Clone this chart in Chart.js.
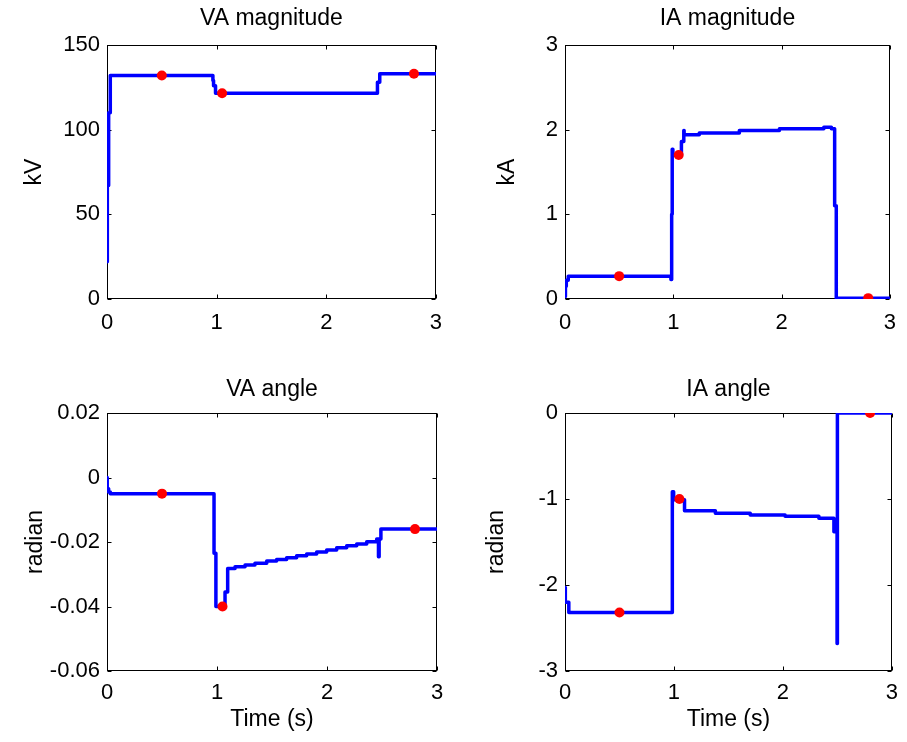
<!DOCTYPE html>
<html>
<head>
<meta charset="utf-8">
<title>Phase A quantities</title>
<script src="https://cdn.jsdelivr.net/npm/chart.js@4.4.0/dist/chart.umd.min.js"></script>
<style>
  html, body { margin: 0; padding: 0; background: #fff; }
  #fig { position: relative; width: 907px; height: 742px; }
  #fig canvas { position: absolute; }
</style>
</head>
<body>
<div id="fig">
  <canvas id="vaMag" width="453" height="371" style="left:0;top:0"></canvas>
  <canvas id="iaMag" width="454" height="371" style="left:453px;top:0"></canvas>
  <canvas id="vaAng" width="453" height="371" style="left:0;top:371px"></canvas>
  <canvas id="iaAng" width="454" height="371" style="left:453px;top:371px"></canvas>
</div>
<script>
(function(){
    "use strict";

    // sample instants of the red markers (s)
    var markerTime = [0.5, 1.05, 2.8];

    // VA magnitude (kV), each value held until the next instant
    var vaMagTime  = [0, 0.003, 0.015, 0.03, 0.966, 0.972, 0.99, 2.467, 2.488, 3];
    var vaMagValue = [22, 67, 110, 132, 129, 126, 121.5, 128, 133, 133];
    var vaMagMarkers = [132, 121.5, 133];

    // IA magnitude (kA)
    var iaMagTime  = [0, 0.004, 0.012, 0.03, 0.978, 0.985, 0.99, 0.996, 1.075, 1.097, 1.1,
                      1.24, 1.61, 1.98, 2.39, 2.46, 2.49, 2.505, 3];
    var iaMagValue = [0.03, 0.15, 0.22, 0.27, 0.23, 1.0, 1.77, 1.70, 1.86, 1.99, 1.94,
                      1.96, 1.99, 2.01, 2.03, 2.01, 1.1, 0.01, 0.01];
    var iaMagMarkers = [0.27, 1.70, 0.01];

    // VA angle (radian)
    var vaAngTime  = [0, 0.002, 0.015, 0.03, 0.973, 0.99, 1.073,
                      1.097, 1.164, 1.255, 1.345, 1.452, 1.542, 1.633, 1.724,
                      1.815, 1.906, 1.997, 2.088, 2.179, 2.270, 2.361, 2.452,
                      2.468, 2.474, 2.49, 3];
    var vaAngValue = [0, -0.0035, -0.0045, -0.005, -0.0235, -0.040, -0.0355,
                      -0.0282, -0.0277, -0.0271, -0.0266, -0.0259, -0.0254, -0.0249, -0.0243,
                      -0.0237, -0.0231, -0.0225, -0.0218, -0.0212, -0.0206, -0.0199, -0.0191,
                      -0.0246, -0.0191, -0.016, -0.016];
    var vaAngMarkers = [-0.005, -0.040, -0.016];

    // IA angle (radian)
    var iaAngTime  = [0, 0.003, 0.035, 0.985, 0.997, 1.097, 1.38, 1.70, 2.02, 2.33, 2.468, 2.497, 2.5, 3];
    var iaAngValue = [-2.03, -2.2, -2.32, -0.915, -1.01, -1.136, -1.166, -1.186, -1.2, -1.225, -1.38, -2.68, 0, 0];
    var iaAngMarkers = [-2.32, -1.0, 0];

    // axis ticks
    var timeTicks = [0, 1, 2, 3];
    var timeTickLabels = ['0', '1', '2', '3'];
    var vaMagTicks = [0, 50, 100, 150];
    var vaMagTickLabels = ['0', '50', '100', '150'];
    var iaMagTicks = [0, 1, 2, 3];
    var iaMagTickLabels = ['0', '1', '2', '3'];
    var vaAngTicks = [-0.06, -0.04, -0.02, 0, 0.02];
    var vaAngTickLabels = ['-0.06', '-0.04', '-0.02', '0', '0.02'];
    var iaAngTicks = [-3, -2, -1, 0];
    var iaAngTickLabels = ['-3', '-2', '-1', '0'];

    var FONT = '"Liberation Sans", Arial, Helvetica, sans-serif';

    function toPoints(xs, ys){
        return xs.map(function(x, i){ return {x: x, y: ys[i]}; });
    }

    // box round the axes with short inward ticks on all four sides
    var framePlugin = {
        id: 'frame',
        beforeDatasetsDraw: function(chart){
            var a = chart.chartArea;
            var ctx = chart.ctx;
            var xs = chart.scales.x, ys = chart.scales.y;
            var len = 4;
            var l = Math.round(a.left) + 0.5, r = Math.round(a.right) - 0.5;
            var t = Math.round(a.top) + 0.5, b = Math.round(a.bottom) - 0.5;
            ctx.save();
            ctx.strokeStyle = '#000';
            ctx.lineWidth = 1;
            ctx.strokeRect(l, t, r - l, b - t);
            ctx.beginPath();
            xs.ticks.forEach(function(tk){
                var px = Math.round(xs.getPixelForValue(tk.value)) + 0.5;
                ctx.moveTo(px, b); ctx.lineTo(px, b - len);
                ctx.moveTo(px, t); ctx.lineTo(px, t + len);
            });
            ys.ticks.forEach(function(tk){
                var py = Math.round(ys.getPixelForValue(tk.value)) + 0.5;
                ctx.moveTo(l, py); ctx.lineTo(l + len, py);
                ctx.moveTo(r, py); ctx.lineTo(r - len, py);
            });
            ctx.stroke();
            ctx.restore();
        }
    };

    function createPanel(id, p){
        var ctx = document.getElementById(id).getContext('2d');
        return new Chart(ctx, {
            type: 'line',
            data: {
                datasets: [{
                    data: toPoints(markerTime, p.markers),
                    showLine: false,
                    pointRadius: 5,
                    pointBackgroundColor: '#ff0000',
                    pointBorderWidth: 0
                }, {
                    data: toPoints(p.time, p.value),
                    // hold each value, then jump at the next instant
                    stepped: 'before',
                    borderColor: '#0000ff',
                    borderWidth: 3.5,
                    borderJoinStyle: 'round',
                    borderCapStyle: 'round',
                    pointRadius: 0,
                    fill: false
                }]
            },
            options: {
                responsive: false,
                animation: false,
                events: [],
                layout: { padding: { left: 0, right: p.padRight, top: 0, bottom: 0 } },
                plugins: {
                    legend: { display: false },
                    tooltip: { enabled: false },
                    title: {
                        display: true,
                        text: p.title,
                        fullSize: false,
                        color: '#000',
                        font: { family: FONT, size: 23, weight: 'normal' },
                        padding: { top: 5, bottom: p.titleGap }
                    }
                },
                scales: {
                    x: {
                        type: 'linear',
                        min: 0,
                        max: 3,
                        afterBuildTicks: function(scale){
                            scale.ticks = timeTicks.map(function(v){ return {value: v}; });
                        },
                        afterFit: function(scale){ scale.height = p.xHeight; },
                        grid: { display: false, drawTicks: false },
                        border: { display: false },
                        ticks: {
                            color: '#000',
                            padding: p.xTickPad,
                            maxRotation: 0,
                            font: { family: FONT, size: 22 },
                            callback: function(v, i){ return timeTickLabels[i]; }
                        },
                        title: {
                            display: !!p.xTitle,
                            text: p.xTitle || '',
                            color: '#000',
                            font: { family: FONT, size: 23 },
                            padding: { top: 0, bottom: 9 }
                        }
                    },
                    y: {
                        type: 'linear',
                        min: p.yTicks[0],
                        max: p.yTicks[p.yTicks.length - 1],
                        afterBuildTicks: function(scale){
                            scale.ticks = p.yTicks.map(function(v){ return {value: v}; });
                        },
                        afterFit: function(scale){ scale.width = p.yWidth; },
                        grid: { display: false, drawTicks: false },
                        border: { display: false },
                        ticks: {
                            color: '#000',
                            padding: 7,
                            font: { family: FONT, size: 22 },
                            callback: function(v, i){ return p.yTickLabels[i]; }
                        },
                        title: {
                            display: true,
                            text: p.yTitle,
                            color: '#000',
                            font: { family: FONT, size: 23 },
                            padding: { top: p.yTitlePad, bottom: 0 }
                        }
                    }
                }
            },
            plugins: [framePlugin]
        });
    }

    createPanel('vaMag', {
        title: 'VA magnitude', yTitle: 'kV',
        time: vaMagTime, value: vaMagValue, markers: vaMagMarkers,
        yTicks: vaMagTicks, yTickLabels: vaMagTickLabels,
        yWidth: 107, padRight: 16, titleGap: 12.4, xHeight: 72, xTickPad: 11, yTitlePad: 21
    });
    createPanel('iaMag', {
        title: 'IA magnitude', yTitle: 'kA',
        time: iaMagTime, value: iaMagValue, markers: iaMagMarkers,
        yTicks: iaMagTicks, yTickLabels: iaMagTickLabels,
        yWidth: 112, padRight: 10, titleGap: 12.4, xHeight: 72, xTickPad: 11, yTitlePad: 41
    });
    createPanel('vaAng', {
        title: 'VA angle', yTitle: 'radian', xTitle: 'Time (s)',
        time: vaAngTime, value: vaAngValue, markers: vaAngMarkers,
        yTicks: vaAngTicks, yTickLabels: vaAngTickLabels,
        yWidth: 107, padRight: 16, titleGap: 9.4, xHeight: 71, xTickPad: 9, yTitlePad: 22
    });
    createPanel('iaAng', {
        title: 'IA angle', yTitle: 'radian', xTitle: 'Time (s)',
        time: iaAngTime, value: iaAngValue, markers: iaAngMarkers,
        yTicks: iaAngTicks, yTickLabels: iaAngTickLabels,
        yWidth: 112, padRight: 10, titleGap: 9.4, xHeight: 71, xTickPad: 9, yTitlePad: 30
    });
})();
</script>
</body>
</html>
